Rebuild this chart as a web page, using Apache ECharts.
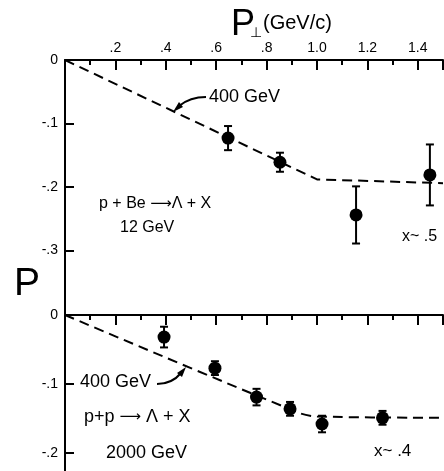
<!DOCTYPE html>
<html>
<head>
<meta charset="utf-8">
<script src="https://cdn.jsdelivr.net/npm/echarts@6/dist/echarts.min.js"></script>
<style>
  html, body { margin: 0; padding: 0; background: #fff; }
  #main { width: 444px; height: 471px; }
</style>
</head>
<body>
<div id="main"></div>
<script>
// p + Be -> Lambda + X, 12 GeV (upper panel)
var topPt = [0.647, 0.853, 1.155, 1.448];
var topP = [-0.123, -0.161, -0.244, -0.181];
var topErr = [0.019, 0.015, 0.045, 0.048];
// 400 GeV curve, upper panel
var topFitPt = [0, 1.0, 1.5];
var topFitP = [0, -0.188, -0.194];

// p + p -> Lambda + X, 2000 GeV (lower panel)
var botPt = [0.393, 0.595, 0.76, 0.893, 1.02, 1.26];
var botP = [-0.032, -0.077, -0.119, -0.136, -0.158, -0.149];
var botErr = [0.015, 0.01, 0.012, 0.01, 0.012, 0.01];
// 400 GeV curve, lower panel
var botFitPt = [0, 0.93, 1.0, 1.5];
var botFitP = [0, -0.142, -0.147, -0.149];

// tick labels
var xTickLabels = ['', '.2', '.4', '.6', '.8', '1.0', '1.2', '1.4'];
var yTickLabels = ['0', '-.1', '-.2', '-.3'];

var FONT = '"Liberation Sans", Arial, sans-serif';

function zip(a, b, c) {
    return a.map(function (v, i) { return c ? [v, b[i], c[i]] : [v, b[i]]; });
}
function xLabel(v) {
    var i = Math.round(v / 0.2);
    return xTickLabels[i] || '';
}
function yLabel(v) {
    var i = Math.round(-v / 0.1);
    return yTickLabels[i] || '';
}

// error bars drawn from the data through the axes
function errBar(params, api) {
    var x = api.value(0), y = api.value(1), e = api.value(2);
    var hi = api.coord([x, y + e]);
    var lo = api.coord([x, y - e]);
    var w = 4;
    var st = { stroke: '#000', lineWidth: 2 };
    return {
        type: 'group',
        children: [
            { type: 'line', shape: { x1: hi[0], y1: hi[1], x2: lo[0], y2: lo[1] }, style: st },
            { type: 'line', shape: { x1: hi[0] - w, y1: hi[1], x2: hi[0] + w, y2: hi[1] }, style: st },
            { type: 'line', shape: { x1: lo[0] - w, y1: lo[1], x2: lo[0] + w, y2: lo[1] }, style: st }
        ]
    };
}

function xAxis(gi, labels) {
    return {
        type: 'value', gridIndex: gi, position: 'top',
        min: 0, max: 1.5, interval: 0.2,
        axisLine: { show: true, onZero: false, lineStyle: { color: '#000', width: 2 } },
        axisTick: { show: true, inside: true, length: 10, lineStyle: { color: '#000', width: 2 } },
        minorTick: { show: true, splitNumber: 2, length: 5, lineStyle: { color: '#000', width: 2 } },
        splitLine: { show: false },
        axisLabel: {
            show: labels, margin: 5, color: '#000', fontSize: 14, fontFamily: FONT,
            showMaxLabel: false, formatter: xLabel
        }
    };
}
function yAxis(gi, min) {
    return {
        type: 'value', gridIndex: gi,
        min: min, max: 0, interval: 0.1,
        axisLine: { show: true, onZero: false, lineStyle: { color: '#000', width: 2 } },
        axisTick: { show: true, inside: true, length: 9, lineStyle: { color: '#000', width: 2 } },
        splitLine: { show: false },
        axisLabel: {
            margin: 7, color: '#000', fontSize: 14, fontFamily: FONT,
            showMinLabel: false, formatter: yLabel
        }
    };
}

var dash = { color: '#000', width: 2, type: [10, 6] };
var arrowRich = { ar: { fontFamily: '"DejaVu Sans"', fontSize: 15, fill: '#000' } };

var chart = echarts.init(document.getElementById('main'));
chart.setOption({
    animation: false,
    backgroundColor: '#fff',
    grid: [
        { left: 65, top: 60, width: 378, height: 254, outerBoundsMode: 'none', containLabel: false },
        // lower panel runs past the bottom edge, as in the original
        { left: 65, top: 315, width: 378, height: 207, outerBoundsMode: 'none', containLabel: false }
    ],
    xAxis: [xAxis(0, true), xAxis(1, false)],
    yAxis: [yAxis(0, -0.4), yAxis(1, -0.3)],
    series: [
        { type: 'line', xAxisIndex: 0, yAxisIndex: 0, data: zip(topFitPt, topFitP),
          symbol: 'none', lineStyle: dash, silent: true },
        { type: 'line', xAxisIndex: 1, yAxisIndex: 1, data: zip(botFitPt, botFitP),
          symbol: 'none', smooth: 0.3, lineStyle: dash, silent: true },
        { type: 'custom', xAxisIndex: 0, yAxisIndex: 0, renderItem: errBar,
          data: zip(topPt, topP, topErr), z: 3 },
        { type: 'custom', xAxisIndex: 1, yAxisIndex: 1, renderItem: errBar,
          data: zip(botPt, botP, botErr), z: 3 },
        { type: 'scatter', xAxisIndex: 0, yAxisIndex: 0, data: zip(topPt, topP),
          symbol: 'circle', symbolSize: 13, itemStyle: { color: '#000', opacity: 1 }, z: 4 },
        { type: 'scatter', xAxisIndex: 1, yAxisIndex: 1, data: zip(botPt, botP),
          symbol: 'circle', symbolSize: 13, itemStyle: { color: '#000', opacity: 1 }, z: 4 }
    ],
    graphic: [
        // axis titles
        { type: 'text', left: 231, top: 7, style: { text: 'P', font: '36px ' + FONT, fill: '#000' } },
        { type: 'text', left: 250, top: 26, style: { text: '\u22a5', font: '14px ' + FONT, fill: '#000' } },
        { type: 'text', left: 263, top: 13, style: { text: '(GeV/c)', font: '20px ' + FONT, fill: '#000' } },
        { type: 'text', left: 14, top: 265, style: { text: 'P', font: '39px ' + FONT, fill: '#000' } },
        // upper panel notes
        { type: 'text', left: 209, top: 88, style: { text: '400 GeV', font: '18px ' + FONT, fill: '#000' } },
        { type: 'bezierCurve', shape: { x1: 206, y1: 97, cpx1: 190, cpy1: 97, x2: 179, y2: 106 },
          style: { stroke: '#000', lineWidth: 2, fill: null } },
        { type: 'polygon', shape: { points: [[173, 112], [183, 107], [179, 102]] }, style: { fill: '#000' } },
        { type: 'text', left: 99, top: 196, style: { text: 'p + Be {ar|\u27f6}\u039b + X', font: '16px ' + FONT, fill: '#000', rich: arrowRich } },
        { type: 'text', left: 120, top: 220, style: { text: '12 GeV', font: '16px ' + FONT, fill: '#000' } },
        { type: 'text', left: 402, top: 229, style: { text: 'x~ .5', font: '16px ' + FONT, fill: '#000' } },
        // lower panel notes
        { type: 'text', left: 80, top: 373, style: { text: '400 GeV', font: '18px ' + FONT, fill: '#000' } },
        { type: 'bezierCurve', shape: { x1: 157, y1: 384, cpx1: 172, cpy1: 384, x2: 181, y2: 373 },
          style: { stroke: '#000', lineWidth: 2, fill: null } },
        { type: 'polygon', shape: { points: [[186, 367], [182, 377], [177, 373]] }, style: { fill: '#000' } },
        { type: 'text', left: 84, top: 408, style: { text: 'p+p {ar|\u27f6} \u039b + X', font: '18px ' + FONT, fill: '#000', rich: arrowRich } },
        { type: 'text', left: 106, top: 444, style: { text: '2000 GeV', font: '18px ' + FONT, fill: '#000' } },
        { type: 'text', left: 374, top: 443, style: { text: 'x~ .4', font: '17px ' + FONT, fill: '#000' } }
    ]
});
</script>
</body>
</html>
